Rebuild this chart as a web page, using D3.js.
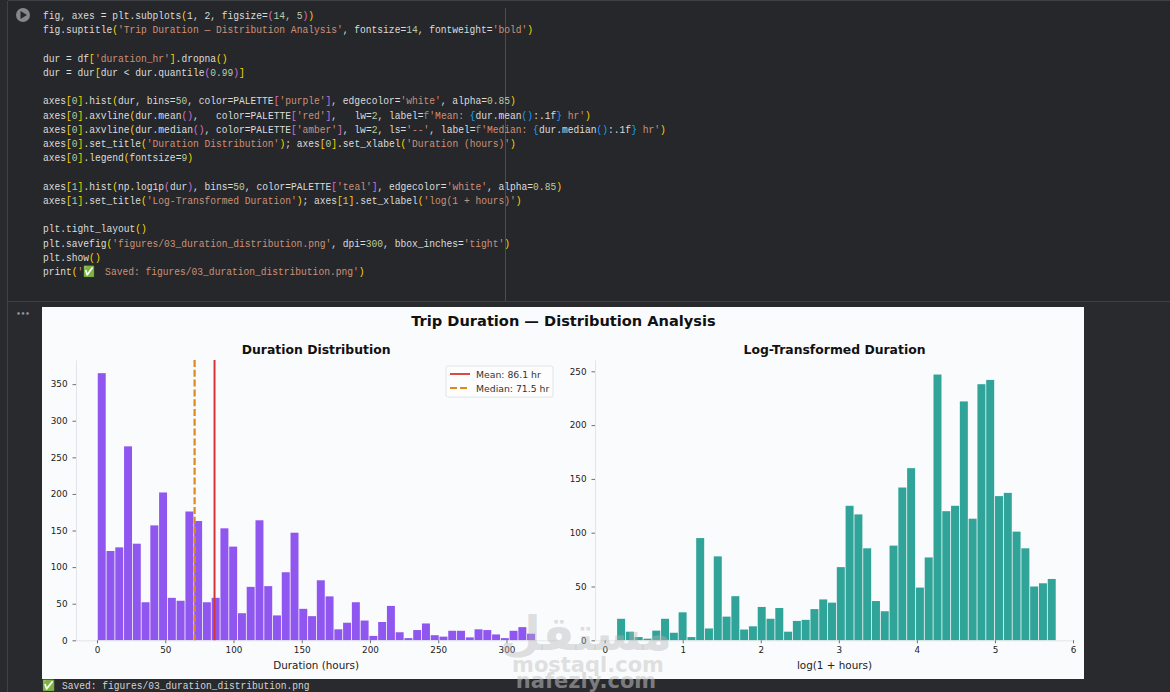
<!DOCTYPE html>
<html><head><meta charset="utf-8">
<script src="https://cdn.jsdelivr.net/npm/d3@7"></script>
<style>
html,body{margin:0;padding:0;background:#292a2d;overflow:hidden}
svg{display:block}
text{font-family:"DejaVu Sans",sans-serif}
.code text{font-family:"Liberation Mono",monospace;font-size:10.6px;white-space:pre}
.tick text{font-size:8.8px;fill:#222}
</style></head><body>
<svg id="c" width="1170" height="692"></svg>
<script>
const durationCounts=[365,122,127,265,132,52,157,202,58,54,176,163,52,58,153,128,37,73,164,74,34,93,147,43,33,82,60,15,24,52,27,6,25,47,11,3,14,23,7,5,13,13,4,15,14,8,3,13,18,9];
const logCounts=[20,8,3,1.5,9,20,7,26,3,95,11,78,22,41,10,13,31,20,30,8,18,19,29,38,35,68,125,117,85.5,36.5,27,88,142,160,49,77,247,120,125,222,113,238,242,134,137,101,85.5,50,53,57];
const durationStart=0.25, durationBinWidth=6.42;
const logStart=0.154, logBinWidth=0.1126;
const durationXTicks=[0,50,100,150,200,250,300];
const durationYTicks=[0,50,100,150,200,250,300,350];
const logXTicks=[0,1,2,3,4,5,6];
const logYTicks=[0,50,100,150,200,250];
const meanValue=86.1, medianValue=71.5;
const suptitle="Trip Duration — Distribution Analysis";
const titles=["Duration Distribution","Log-Transformed Duration"];
const xLabels=["Duration (hours)","log(1 + hours)"];
const legendLabels=["Mean: 86.1 hr","Median: 71.5 hr"];
const watermarkLines=["مستقل","mostaql.com","nafezly.com"];
const K="#dcdcdc",S="#ce9178",Y="#ffd700",P="#da70d6",N="#b5cea8",B="#179fff",Q="#569cd6";
const codeLines=[
[["fig, axes = plt.subplots",K],["(",Y],["1, 2, figsize",K],["=",K],["(",P],["14, 5",N],[")",P],[")",Y]],
[["fig.suptitle",K],["(",Y],["'Trip Duration — Distribution Analysis'",S],[", fontsize=",K],["14",N],[", fontweight=",K],["'bold'",S],[")",Y]],
[],
[["dur = df",K],["[",Y],["'duration_hr'",S],["]",Y],[".dropna",K],["()",Y]],
[["dur = dur",K],["[",Y],["dur < dur.quantile",K],["(",P],["0.99",N],[")",P],["]",Y]],
[],
[["axes",K],["[",Y],["0",N],["]",Y],[".hist",K],["(",Y],["dur, bins=",K],["50",N],[", color=PALETTE",K],["[",P],["'purple'",S],["]",P],[", edgecolor=",K],["'white'",S],[", alpha=",K],["0.85",N],[")",Y]],
[["axes",K],["[",Y],["0",N],["]",Y],[".axvline",K],["(",Y],["dur.mean",K],["()",P],[",   color=PALETTE",K],["[",P],["'red'",S],["]",P],[",   lw=",K],["2",N],[", label=",K],["f",Q],["'Mean: ",S],["{",B],["dur.mean",K],["()",B],[":.1f",K],["}",B],[" hr'",S],[")",Y]],
[["axes",K],["[",Y],["0",N],["]",Y],[".axvline",K],["(",Y],["dur.median",K],["()",P],[", color=PALETTE",K],["[",P],["'amber'",S],["]",P],[", lw=",K],["2",N],[", ls=",K],["'--'",S],[", label=",K],["f",Q],["'Median: ",S],["{",B],["dur.median",K],["()",B],[":.1f",K],["}",B],[" hr'",S],[")",Y]],
[["axes",K],["[",Y],["0",N],["]",Y],[".set_title",K],["(",Y],["'Duration Distribution'",S],[")",Y],["; axes",K],["[",Y],["0",N],["]",Y],[".set_xlabel",K],["(",Y],["'Duration (hours)'",S],[")",Y]],
[["axes",K],["[",Y],["0",N],["]",Y],[".legend",K],["(",Y],["fontsize=",K],["9",N],[")",Y]],
[],
[["axes",K],["[",Y],["1",N],["]",Y],[".hist",K],["(",Y],["np.log1p",K],["(",P],["dur",K],[")",P],[", bins=",K],["50",N],[", color=PALETTE",K],["[",P],["'teal'",S],["]",P],[", edgecolor=",K],["'white'",S],[", alpha=",K],["0.85",N],[")",Y]],
[["axes",K],["[",Y],["1",N],["]",Y],[".set_title",K],["(",Y],["'Log-Transformed Duration'",S],[")",Y],["; axes",K],["[",Y],["1",N],["]",Y],[".set_xlabel",K],["(",Y],["'log(1 + hours)'",S],[")",Y]],
[],
[["plt.tight_layout",K],["()",Y]],
[["plt.savefig",K],["(",Y],["'figures/03_duration_distribution.png'",S],[", dpi=",K],["300",N],[", bbox_inches=",K],["'tight'",S],[")",Y]],
[["plt.show",K],["()",Y]],
[["print",K],["(",Y],["'✅",S],[" Saved: figures/03_duration_distribution.png'",S,4],[")",Y]]
];
const outputCheck="✅", outputLine="Saved: figures/03_duration_distribution.png";

const svg=d3.select("#c");
// notebook chrome
svg.append("rect").attr("x",8).attr("y",1).attr("width",1162).attr("height",300).attr("fill","#25272a");
svg.append("line").attr("x1",8).attr("x2",1170).attr("y1",0.5).attr("y2",0.5).attr("stroke","#3f4043");
svg.append("line").attr("x1",7.5).attr("x2",7.5).attr("y1",1).attr("y2",692).attr("stroke","#3f4043");
svg.append("line").attr("x1",8).attr("x2",1170).attr("y1",301.5).attr("y2",301.5).attr("stroke","#3f4043");
svg.append("line").attr("x1",505.5).attr("x2",505.5).attr("y1",8).attr("y2",301).attr("stroke","#4a4c50");
const play=svg.append("g").attr("transform","translate(23,15)");
play.append("circle").attr("r",7).attr("fill","#85878a");
play.append("path").attr("d","M-2.5,-4L4,0L-2.5,4Z").attr("fill","#26282b");
svg.append("text").attr("x",23).attr("y",316).attr("text-anchor","middle").attr("font-size",7).attr("font-weight","bold").attr("fill","#9a9a9a").text("•••");

// code
const code=svg.append("g").attr("class","code").attr("transform","translate(43,0) scale(0.907,1)");
codeLines.forEach((spans,i)=>{
  const t=code.append("text").attr("x",0).attr("y",19+i*14.22).attr("xml:space","preserve");
  spans.forEach(s=>t.append("tspan").attr("fill",s[1]).attr("dx",s[2]||0).text(s[0]));
});

// figure
svg.append("rect").attr("x",42).attr("y",307).attr("width",1042).attr("height",372).attr("fill","#fafbfd");
svg.append("text").attr("x",563.5).attr("y",326).attr("text-anchor","middle").attr("font-size",14.6).attr("font-weight","bold").attr("fill","#111").text(suptitle);

function panel(o){
  const x=d3.scaleLinear().domain(o.xDom).range(o.xRange);
  const y=d3.scaleLinear().domain(o.yDom).range(o.yRange);
  const g=svg.append("g");
  g.selectAll("rect.bar").data(o.counts).join("rect").attr("class","bar")
    .attr("x",(d,i)=>x(o.start+i*o.w)+0.4)
    .attr("width",(d,i)=>x(o.start+(i+1)*o.w)-x(o.start+i*o.w)-0.8)
    .attr("y",d=>y(d)).attr("height",d=>y(0)-y(d))
    .attr("fill",o.color).attr("fill-opacity",0.85);
  const ax=g.append("g").attr("transform",`translate(0,${o.yRange[0]})`).call(d3.axisBottom(x).tickValues(o.xt).tickFormat(d3.format("d")).tickSize(3).tickSizeOuter(0).tickPadding(3.5));
  const ay=g.append("g").attr("transform",`translate(${o.xRange[0]},0)`).call(d3.axisLeft(y).tickValues(o.yt).tickFormat(d3.format("d")).tickSize(3.5).tickSizeOuter(0).tickPadding(5));
  [ax,ay].forEach(a=>{a.select(".domain").attr("stroke","#e3e5ea").attr("stroke-width",1);a.selectAll(".tick line").attr("stroke","#333").attr("stroke-width",.7);});
  g.append("text").attr("x",(o.xRange[0]+o.xRange[1])/2).attr("y",354).attr("text-anchor","middle").attr("font-size",12.4).attr("font-weight","bold").attr("fill","#111").text(o.title);
  g.append("text").attr("x",(o.xRange[0]+o.xRange[1])/2).attr("y",669).attr("text-anchor","middle").attr("font-size",10.4).attr("fill","#222").text(o.xl);
  return {x,y,g};
}
const L=panel({counts:durationCounts,start:durationStart,w:durationBinWidth,
  xDom:[-15.4,336.5],xRange:[76,556.3],yDom:[0,383],yRange:[640.3,360],
  xt:durationXTicks,yt:durationYTicks,color:"#7c3aed",title:titles[0],xl:xLabels[0]});
const R=panel({counts:logCounts,start:logStart,w:logBinWidth,
  xDom:[-0.124,6.013],xRange:[595,1074],yDom:[0,260.5],yRange:[640.3,360],
  xt:logXTicks,yt:logYTicks,color:"#0d9488",title:titles[1],xl:xLabels[1]});
L.g.append("line").attr("x1",L.x(meanValue)).attr("x2",L.x(meanValue)).attr("y1",360).attr("y2",640.3).attr("stroke","#d93434").attr("stroke-width",2);
L.g.append("line").attr("x1",L.x(medianValue)).attr("x2",L.x(medianValue)).attr("y1",360).attr("y2",640.3).attr("stroke","#dc8a1e").attr("stroke-width",2.2).attr("stroke-dasharray","7,2.8");

// legend
const lg=svg.append("g").attr("transform","translate(446,366)");
lg.append("rect").attr("width",107).attr("height",31).attr("rx",2).attr("fill","#fdfdfe").attr("stroke","#dcdde0").attr("stroke-width",.8);
lg.append("line").attr("x1",4).attr("x2",24).attr("y1",8).attr("y2",8).attr("stroke","#d93434").attr("stroke-width",1.8);
lg.append("line").attr("x1",4).attr("x2",24).attr("y1",22).attr("y2",22).attr("stroke","#dc8a1e").attr("stroke-width",1.8).attr("stroke-dasharray","7,3");
legendLabels.forEach((t,i)=>lg.append("text").attr("x",30).attr("y",11.5+i*14.2).attr("font-size",9.3).attr("fill","#333").text(t));

// output line
const outMono='font-family:"Liberation Mono",monospace;font-size:10.6px';
svg.append("text").attr("x",42).attr("y",689).attr("style",outMono).attr("font-size",11).text(outputCheck);
svg.append("text").attr("x",62).attr("y",689).attr("style",outMono).attr("transform","translate(6,0) scale(0.904,1)").attr("fill","#d4d4d4").text(outputLine);

// site watermark that overlays the screenshot
const wm=svg.append("g").attr("text-anchor","middle").attr("pointer-events","none");
wm.append("text").attr("x",586).attr("y",650).attr("font-size",47).attr("font-weight","bold").attr("fill","#b4b4b4").attr("fill-opacity",.42).text(watermarkLines[0]);
wm.append("text").attr("x",588).attr("y",672).attr("font-size",21).attr("font-weight","bold").attr("fill","#c4c4c4").attr("fill-opacity",.5).text(watermarkLines[1]);
wm.append("text").attr("x",586).attr("y",688).attr("font-size",21).attr("font-weight","bold").attr("fill","#c4c4c4").attr("fill-opacity",.55).text(watermarkLines[2]);
</script></body></html>
